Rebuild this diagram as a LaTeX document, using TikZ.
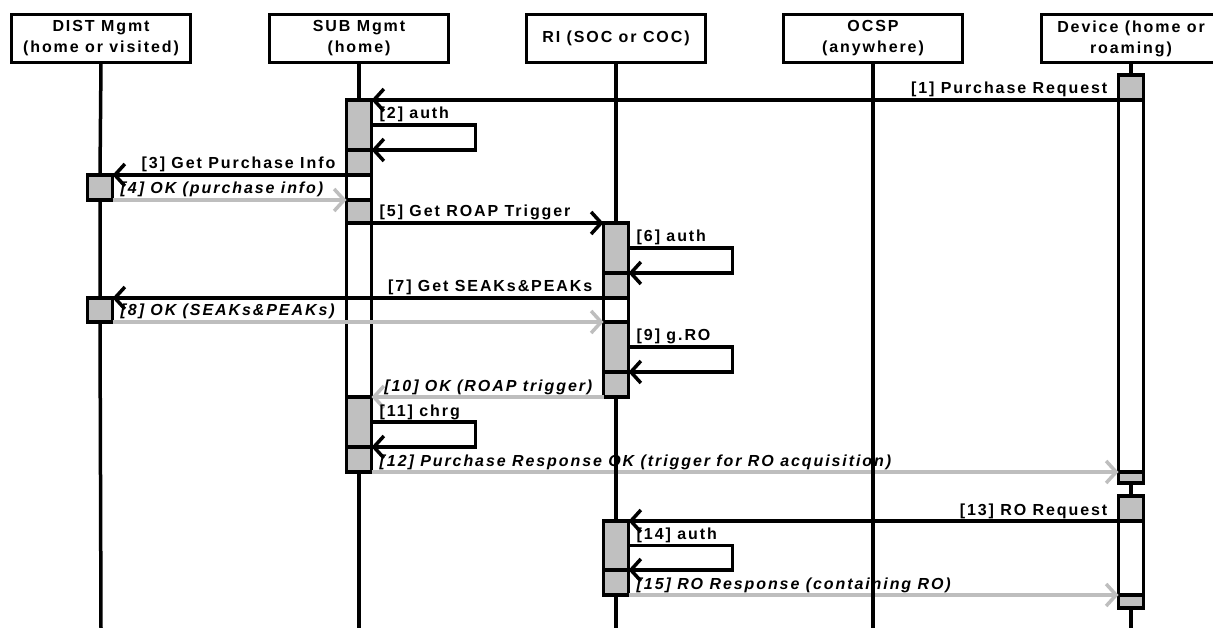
\documentclass[tikz,border=0pt]{standalone}
\usepackage{fontspec}
\setmainfont{Liberation Sans}[LetterSpace=12]
\usetikzlibrary{arrows.meta,positioning,calc}
\definecolor{actgray}{RGB}{192,192,192}
\definecolor{replygray}{RGB}{190,190,190}

\begin{document}
\begin{tikzpicture}[x=1pt,y=-1pt,
  every node/.style={font=\fontsize{16}{21}\selectfont\bfseries},
  head/.style={draw,line width=3.5pt,minimum width=179pt,minimum height=48pt,align=center,inner sep=0pt,outer sep=0pt},
  frame/.style={draw,fill=white,line width=3.5pt,minimum width=25pt,inner sep=0pt,outer sep=0pt},
  act/.style={frame,fill=actgray},
  life/.style={line width=3.5pt},
  msg/.style={line width=3.5pt,-{Straight Barb[length=10pt,width=22pt]}},
  reply/.style={msg,draw=replygray},
  lab/.style={inner sep=0pt,anchor=base west},
  rlab/.style={inner sep=0pt,anchor=base east}]
  \useasboundingbox (0,0) rectangle (1213,628);

  \foreach \n/\x/\lab in {dist/101/{DIST Mgmt\\(home or visited)}, sub/359/{SUB Mgmt\\(home)},
      ri/616/{RI (SOC or COC)}, ocsp/873/{OCSP\\(anywhere)}, dev/1131/{Device (home or\\roaming)}}{
     \node[head] (\n) at (\x,38.5) {\lab};
     \coordinate (\n-end) at (\x,628);
  }

  % activations
  \foreach \n/\x/\t/\b in {subF/359/100/472, riF1/616/223/397, riF2/616/521/595,
      devF1/1131/75/483, devF2/1131/496/608}
     \node[frame,minimum height={\b-\t}] (\n) at (\x,{(\t+\b)/2}) {};
  \foreach \n/\x/\t/\b in {subA/359/100/150, subB/359/150/175, subC/359/200/223,
      subD/359/397/447, subE/359/447/472, distA/100/175/200, distB/100/298/322,
      riA/616/223/273, riB/616/273/298, riC/616/322/372, riD/616/372/397,
      riE/616/521/570, riF/616/570/595, devA/1131/75/100, devB/1131/472/483,
      devC/1131/496/521, devD/1131/595/608}
     \node[act,minimum height={\b-\t}] (\n) at (\x,{(\t+\b)/2}) {};

  % messages
  \draw[msg] (devA.south west) -- (subA.north east);
  \node[rlab] (l1) at ($(devA.south west)+(-11,-6)$) {[1] Purchase Request};
  \draw[msg] (subA.east) -- ++(104,0) |- (subA.south east);
  \node[lab] (l2) at ($(subA.east)+(8,-6)$) {[2] auth};
  \draw[msg] (subB.south west) -- (distA.north east);
  \node[rlab] (l3) at ($(subB.south west)+(-11,-6)$) {[3] Get Purchase Info};
  \draw[reply] (distA.south east) -- (subC.north west);
  \node[lab] (l4) at ($(distA.south east)+(8,-6)$) {\itshape [4] OK (purchase info)};
  \draw[msg] (subC.south east) -- (riA.north west);
  \node[lab] (l5) at ($(subC.south east)+(8,-6)$) {[5] Get ROAP Trigger};
  \draw[msg] (riA.east) -- ++(104,0) |- (riA.south east);
  \node[lab] (l6) at ($(riA.east)+(8,-6)$) {[6] auth};
  \draw[msg] (riB.south west) -- (distB.north east);
  \node[rlab] (l7) at ($(riB.south west)+(-11,-6)$) {[7] Get SEAKs\&PEAKs};
  \draw[reply] (distB.south east) -- (riC.north west);
  \node[lab] (l8) at ($(distB.south east)+(8,-6)$) {\itshape [8] OK (SEAKs\&PEAKs)};
  \draw[msg] (riC.east) -- ++(104,0) |- (riC.south east);
  \node[lab] (l9) at ($(riC.east)+(8,-6)$) {[9] g.RO};
  \draw[reply] (riD.south west) -- (subD.north east);
  \node[rlab] (l10) at ($(riD.south west)+(-11,-6)$) {\itshape [10] OK (ROAP trigger)};
  \draw[msg] (subD.east) -- ++(104,0) |- (subD.south east);
  \node[lab] (l11) at ($(subD.east)+(8,-6)$) {[11] chrg};
  \draw[reply] (subE.south east) -- (devB.north west);
  \node[lab] (l12) at ($(subE.south east)+(8,-6)$) {\itshape [12] Purchase Response OK (trigger for RO acquisition)};
  \draw[msg] (devC.south west) -- (riE.north east);
  \node[rlab] (l13) at ($(devC.south west)+(-11,-6)$) {[13] RO Request};
  \draw[msg] (riE.east) -- ++(104,0) |- (riE.south east);
  \node[lab] (l14) at ($(riE.east)+(8,-6)$) {[14] auth};
  \draw[reply] (riF.south east) -- (devD.north west);
  \node[lab] (l15) at ($(riF.south east)+(8,-6)$) {\itshape [15] RO Response (containing RO)};

  % lifelines
  \draw[life] (dist.south) -- (distA.north) (distA.south) -- (distB.north) (distB.south) -- (dist-end);
  \draw[life] (sub.south) -- (subF.north) (subF.south) -- (sub-end);
  \draw[life] (ri.south) -- (riF1.north) (riF1.south) -- (riF2.north) (riF2.south) -- (ri-end);
  \draw[life] (ocsp.south) -- (ocsp-end);
  \draw[life] (dev.south) -- (devF1.north) (devF1.south) -- (devF2.north) (devF2.south) -- (dev-end);
\end{tikzpicture}
\end{document}
